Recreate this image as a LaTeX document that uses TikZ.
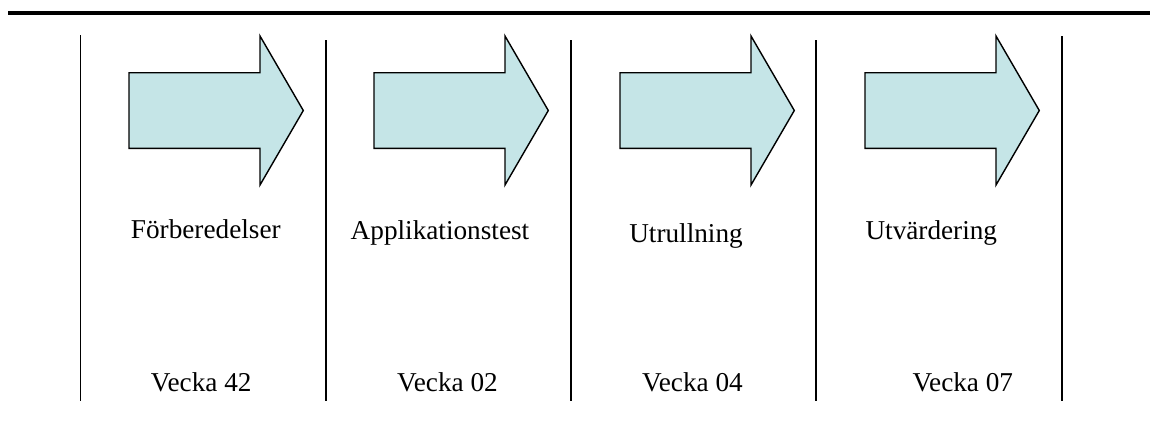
\documentclass[tikz,border=0pt]{standalone}
\usepackage{fontspec}
\setmainfont{Liberation Serif}
\usetikzlibrary{positioning}

\definecolor{phasefill}{RGB}{197,229,231}

\tikzset{
  phase/.style={draw=black, line width=0.8pt, fill=phasefill, line join=miter},
  divider/.style={draw=black, line width=1.1pt},
  headrule/.style={draw=black, line width=2.3pt},
  phasename/.style={anchor=base, inner sep=0pt, font=\fontsize{15.5}{18}\selectfont},
  weekname/.style={anchor=base, inner sep=0pt, font=\fontsize{15.5}{18}\selectfont}
}

\begin{document}
\begin{tikzpicture}[x=0.02cm, y=-0.02cm]
      \useasboundingbox (0,0) rectangle (1150,434);

      % rule across the top
      \draw[headrule] (8,13) -- (1150,13);

      % column dividers
      \draw[divider] (80.5,35) -- (80.5,401);
      \draw[divider] (326,40) -- (326,401);
      \draw[divider] (571,40) -- (571,401);
      \draw[divider] (816,40) -- (816,401);
      \draw[divider] (1062,36) -- (1062,401);

      % block arrows, one per phase
      \draw[phase] (129,72.7) -- ++(131,0) -- ++(0,-36.7) -- ++(43.3,74.5)
                   -- ++(-43.3,74.5) -- ++(0,-36.7) -- ++(-131,0) -- cycle;
      \draw[phase] (374,72.7) -- ++(131,0) -- ++(0,-36.7) -- ++(43.3,74.5)
                   -- ++(-43.3,74.5) -- ++(0,-36.7) -- ++(-131,0) -- cycle;
      \draw[phase] (620,72.7) -- ++(131,0) -- ++(0,-36.7) -- ++(43.3,74.5)
                   -- ++(-43.3,74.5) -- ++(0,-36.7) -- ++(-131,0) -- cycle;
      \draw[phase] (865,72.7) -- ++(131,0) -- ++(0,-36.7) -- ++(43.3,74.5)
                   -- ++(-43.3,74.5) -- ++(0,-36.7) -- ++(-131,0) -- cycle;

      % phase names
      \node[phasename] (prep) at (205.8,238.3) {Förberedelser};
      \node[phasename] (apptest) at (440,239.3) {Applikationstest};
      \node[phasename] (rollout) at (686,242.7) {Utrullning};
      \node[phasename] (eval) at (931.3,239.3) {Utvärdering};

      % weeks
      \node[weekname] (w42) at (201.2,391.7) {Vecka 42};
      \node[weekname] (w02) at (447.5,391.7) {Vecka 02};
      \node[weekname] (w04) at (692.5,391.7) {Vecka 04};
      \node[weekname] (w07) at (962.8,391.7) {Vecka 07};
    \end{tikzpicture}
\end{document}
